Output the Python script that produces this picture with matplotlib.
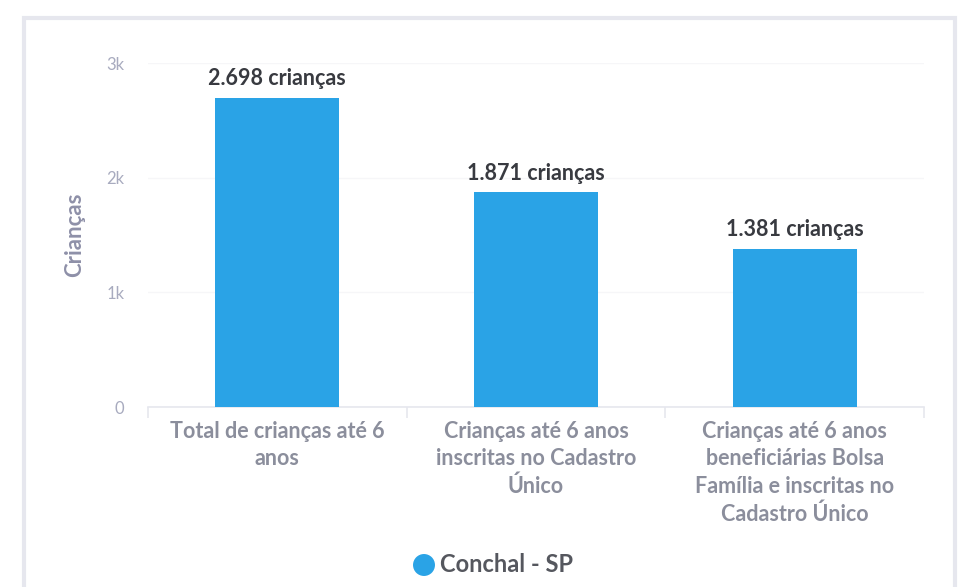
"""Bar chart: crianças até 6 anos em Conchal - SP."""

import matplotlib
matplotlib.use("Agg")
import matplotlib.pyplot as plt
from matplotlib.patches import Rectangle
from matplotlib.ticker import FixedLocator, FuncFormatter
import numpy as np

WIDTH = 962
HEIGHT = 587
DPI = 100

categories = [
    "Total de crianças até 6\nanos",
    "Crianças até 6 anos\ninscritas no Cadastro\nÚnico",
    "Crianças até 6 anos\nbeneficiárias Bolsa\nFamília e inscritas no\nCadastro Único",
]
values = [2698, 1871, 1381]
series_name = "Conchal - SP"
y_ticks = [0, 1000, 2000, 3000]

BAR_COLOR = "#2aa3e6"
FONT = "Lato"


def k_format(v, pos):
    return "0" if v == 0 else "%dk" % (v / 1000)


fig = plt.figure(figsize=(WIDTH / DPI, HEIGHT / DPI), dpi=DPI)
fig.patch.set_facecolor("white")

# card outline
card = Rectangle((24 / WIDTH, -0.05), (955 - 24) / WIDTH, 1.05 - 18 / HEIGHT,
                 transform=fig.transFigure, facecolor="none",
                 edgecolor="#e6e7ee", linewidth=3, zorder=0)
fig.patches.append(card)

ax = fig.add_axes([148 / WIDTH, 1 - 407 / HEIGHT, (924 - 148) / WIDTH, (407 - 63) / HEIGHT])
ax.set_facecolor("none")

x = np.arange(len(values))
bars = ax.bar(x, values, width=0.48, color=BAR_COLOR, zorder=3)

ax.set_xlim(-0.5, len(values) - 0.5)
ax.set_ylim(0, 3000)

for spine in ["top", "right", "left"]:
    ax.spines[spine].set_visible(False)
ax.spines["bottom"].set_color("#e6e7ee")
ax.spines["bottom"].set_linewidth(1.2)

ax.yaxis.set_major_locator(FixedLocator(y_ticks))
ax.yaxis.set_major_formatter(FuncFormatter(k_format))
ax.tick_params(axis="y", length=0, pad=17, labelsize=12, labelcolor="#a8abbf")
ax.grid(axis="y", color="#f6f6f8", linewidth=1, zorder=0)
ax.set_axisbelow(True)

# category separators on the baseline
ax.set_xticks(x)
ax.set_xticks(np.arange(len(values) + 1) - 0.5, minor=True)
ax.tick_params(axis="x", which="minor", length=8, color="#e6e7ee", width=1.2)
ax.tick_params(axis="x", which="major", length=0, pad=10)
ax.set_xticklabels(categories, fontsize=15.5, color="#8b8e9c", family=FONT,
                   fontweight="bold", linespacing=1.38, va="top")
for lbl in ax.get_yticklabels():
    lbl.set_family(FONT)

ax.set_ylabel("Crianças", fontsize=16, color="#8e90a8", family=FONT,
              fontweight="bold")
ax.yaxis.set_label_coords(-0.081, 0.5)

for b, v in zip(bars, values):
    txt = "{:,}".format(v).replace(",", ".") + " crianças"
    ax.annotate(txt, (b.get_x() + b.get_width() / 2, v), xytext=(0, 6),
                textcoords="offset points", ha="center", va="bottom",
                fontsize=15.5, fontweight="bold", color="#383a40", family=FONT)

# legend
ax_leg = fig.add_axes([0, 0, 1, 1], zorder=-1)
ax_leg.set_axis_off()
ax_leg.set_xlim(0, WIDTH)
ax_leg.set_ylim(HEIGHT, 0)
ax_leg.scatter([424], [565], s=250, color=BAR_COLOR, edgecolors="none")
ax_leg.text(440, 565, series_name, fontsize=17, fontweight="bold",
            color="#55575e", family=FONT, va="center", ha="left")

fig.savefig("out.png", dpi=DPI, facecolor=fig.get_facecolor())
